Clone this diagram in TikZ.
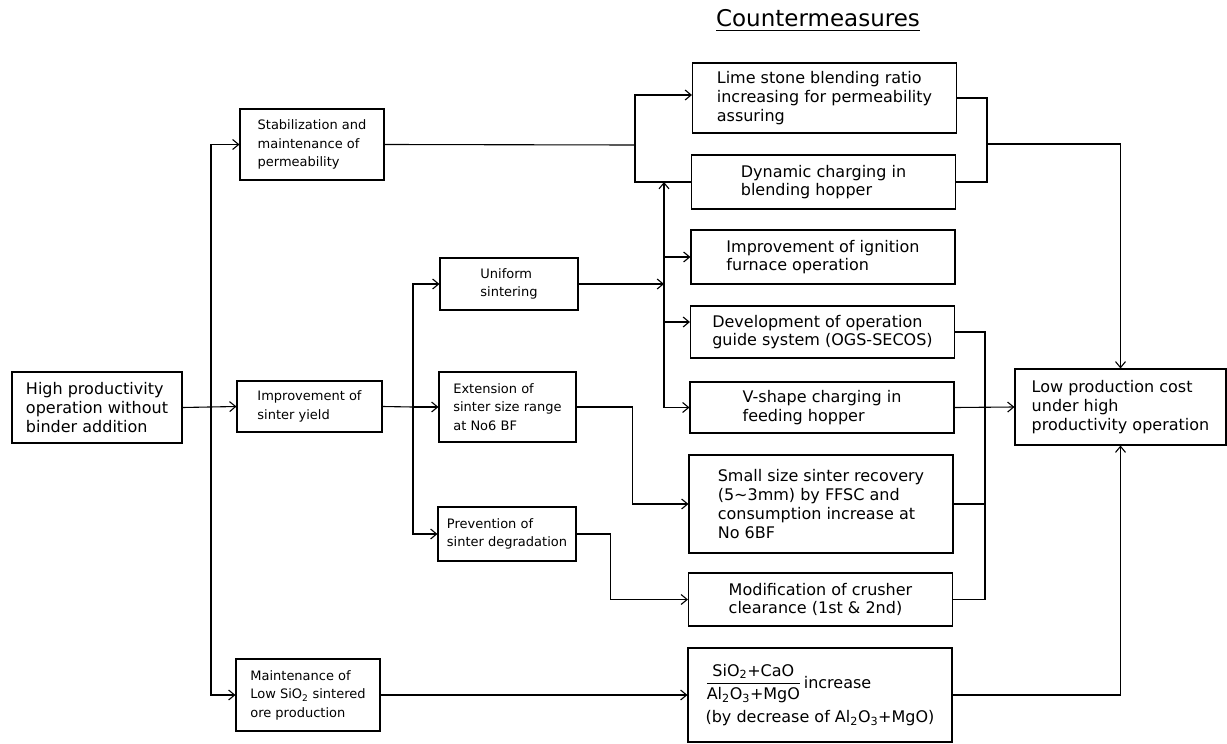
\documentclass[tikz,border=0pt]{standalone}
\usepackage{amsmath}
\usepackage{fontspec}
\setmainfont{DejaVu Sans}
\usetikzlibrary{arrows.meta}

\begin{document}
\begin{tikzpicture}[x=1pt,y=-1pt,line width=1.1pt,>={Straight Barb[length=6pt,width=10pt]},
  mainbox/.style={draw,align=left,inner sep=2pt,font=\fontsize{16}{18.7}\selectfont},
  subbox/.style={draw,align=left,inner sep=2pt,font=\fontsize{13}{18.5}\selectfont},
  cntbox/.style={mainbox,minimum width=264,minimum height=53}]
\useasboundingbox (0,0) rectangle (1227,744) ;
\node[font=\fontsize{23}{27}\selectfont] (title) at (818,21) {\underline{Countermeasures}} ;
\node[mainbox,minimum width=170,minimum height=71] (high) at (97,407.5) {High productivity\\operation without\\binder addition} ;
\node[subbox,minimum width=144,minimum height=71] (stab) at (312,144.5) {Stabilization and\\maintenance of\\permeability} ;
\node[subbox,minimum width=145,minimum height=51] (yield) at (309.5,406.5) {Improvement of\\sinter yield} ;
\node[subbox,minimum width=144,minimum height=72] (maint) at (308,695) {Maintenance of\\Low SiO\textsubscript{2} sintered\\ore production} ;
\node[subbox,minimum width=138,minimum height=52] (uniform) at (509,284) {Uniform\\sintering} ;
\node[subbox,minimum width=137,minimum height=70] (ext) at (507.5,407) {Extension of\\sinter size range\\at No6 BF} ;
\node[subbox,minimum width=138,minimum height=54] (prev) at (507,534) {Prevention of\\sinter degradation} ;
\node[cntbox,minimum height=70] (lime) at (824.5,98) {Lime stone blending ratio\\increasing for permeability\\assuring} ;
\node[cntbox,minimum height=54] (dyn) at (823.5,182) {Dynamic charging in\\blending hopper} ;
\node[cntbox,minimum height=54] (ign) at (823,257) {Improvement of ignition\\furnace operation} ;
\node[cntbox,minimum height=52] (dev) at (822.5,332) {Development of operation\\guide system (OGS-SECOS)} ;
\node[cntbox,minimum height=51] (vsh) at (822,407.5) {V-shape charging in\\feeding hopper} ;
\node[cntbox,minimum height=98] (small) at (821,504) {Small size sinter recovery\\(5\textasciitilde3mm) by FFSC and\\consumption increase at\\No 6BF} ;
\node[cntbox,minimum height=53] (mod) at (820.5,599.5) {Modification of crusher\\clearance (1st \& 2nd)} ;
\node[cntbox,minimum height=94] (sio) at (820,695) {$\dfrac{\text{SiO\textsubscript{2}+CaO}}{\text{Al\textsubscript{2}O\textsubscript{3}+MgO}}$\,increase\\[6pt](by decrease of Al\textsubscript{2}O\textsubscript{3}+MgO)} ;
\node[mainbox,minimum width=211,minimum height=76] (low) at (1120.5,407) {Low production cost\\under high\\productivity operation} ;
\draw[->] (high.east) -- (yield.west) ;
\coordinate (fork1) at (211,407) ;
\draw[->] (fork1) |- (stab.west) ;
\draw[->] (fork1) |- (maint.west) ;
\coordinate (fork2) at (635,145) ;
\coordinate (limein) at ([yshift=3pt]lime.west) ;
\draw (stab.east) -- (fork2) ;
\draw[->] (fork2) |- (limein) ;
\draw (fork2) |- (dyn.west) ;
\coordinate (fork3) at (413,407) ;
\draw (yield.east) -- (fork3) ;
\draw[->] (fork3) |- (uniform.west) ;
\draw[->] (fork3) -- (ext.west) ;
\draw[->] (fork3) |- (prev.west) ;
\coordinate (bus1) at (664,407.5) ;
\coordinate (devin) at ([yshift=10pt]dev.west) ;
\draw[->] (uniform.east) -- (uniform.east -| bus1) ;
\draw[->] (bus1) -- (dyn.west -| bus1) ;
\draw[->] (bus1) -- (vsh.west) ;
\draw[->] (ign.west -| bus1) -- (ign.west) ;
\draw[->] (devin -| bus1) -- (devin) ;
\draw[->] (ext.east) -- ++(56,0) |- (small.west) ;
\draw[->] (prev.east) -- ++(34,0) |- (mod.west) ;
\draw[->] (maint.east) -- (sio.west) ;
\coordinate (join1) at (987,144) ;
\draw (lime.east) -| (join1) |- (dyn.east) ;
\draw[->] (join1) -| (low.north) ;
\coordinate (join2) at (985,407.5) ;
\draw (dev.east) -| (join2) |- (mod.east) ;
\draw (small.east) -- (small.east -| join2) ;
\draw[->] (vsh.east) -- (low.west) ;
\draw[->] (sio.east) -| (low.south) ;
\end{tikzpicture}
\end{document}
